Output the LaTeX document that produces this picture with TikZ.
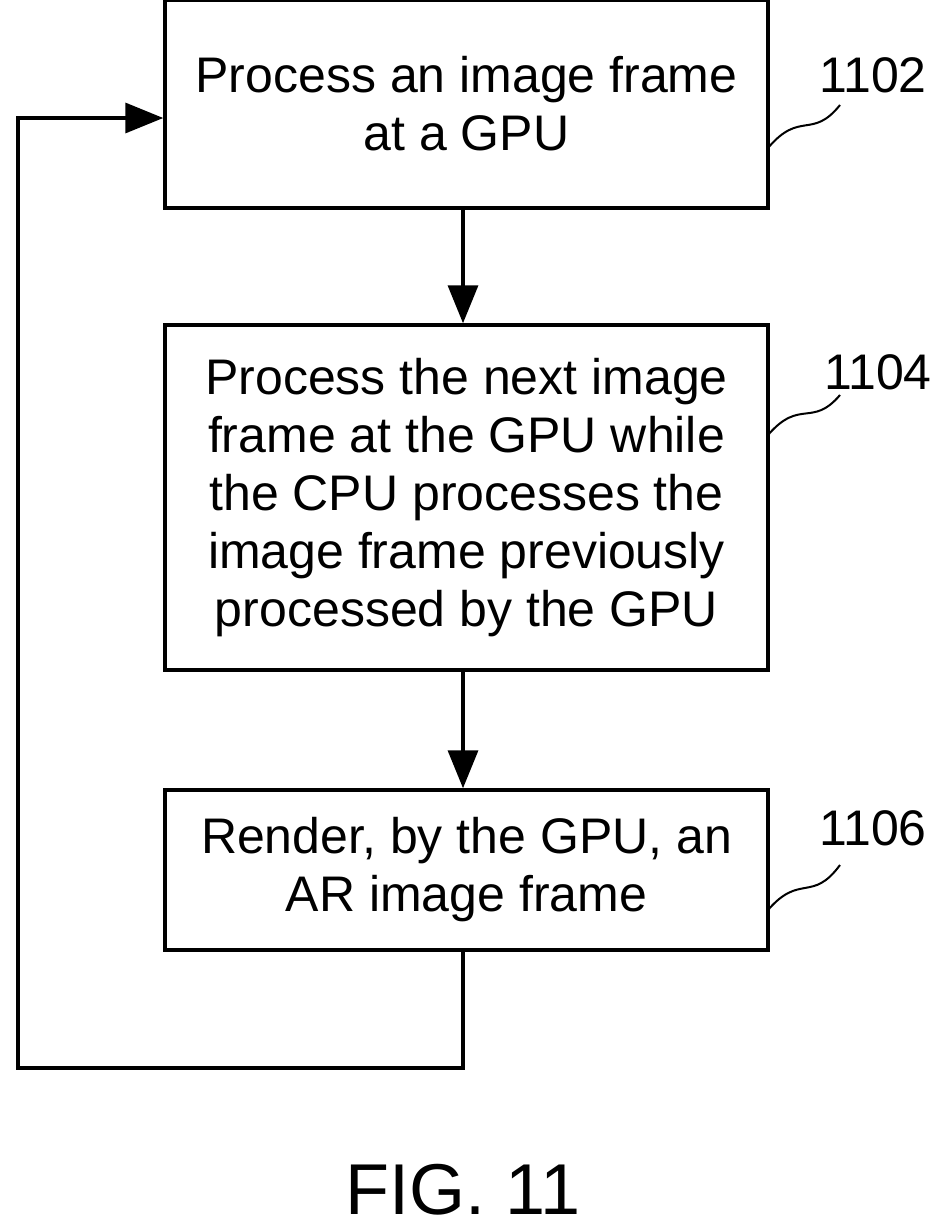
\documentclass[tikz,border=0pt]{standalone}
\usepackage{fontspec}
\setmainfont{Liberation Sans}
\usetikzlibrary{arrows.meta}
\begin{document}
\begin{tikzpicture}[x=1pt,y=-1pt,
 box/.style={draw,line width=3.5pt,minimum width=603pt,align=center,font=\fontsize{50}{58}\selectfont,inner sep=0},
 arr/.style={line width=3.5pt,-{Triangle[length=38pt,width=30pt]}},
 lab/.style={font=\fontsize{50}{56}\selectfont},
 sq/.style={line width=2pt}]
\useasboundingbox (0,0) rectangle (939,1229);
\node[box,minimum height=208pt] (b1) at (466.5,104) {\raisebox{-8pt}{}Process an image frame\\at a GPU};
\node[box,minimum height=345pt] (b2) at (466.5,497.5) {Process the next image\\frame at the GPU while\\the CPU processes the\\image frame previously\\processed by the GPU};
\node[box,minimum height=160pt] (b3) at (466.5,870) {Render, by the GPU, an\\AR image frame};
\draw[arr] (b1.south -| 463,0) -- (b2.north -| 463,0);
\draw[arr] (b2.south -| 463,0) -- (b3.north -| 463,0);
\coordinate (c1) at (463,1068);
\coordinate (c2) at (18,1068);
\coordinate (c3) at (18,118);
\draw[arr] (b3.south -| 463,0) -- (c1) -- (c2) -- (c3) -- (b1.west |- c3);
\node[lab] (l1) at (873,75) {1102};
\node[lab] (l2) at (878,372) {1104};
\node[lab] (l3) at (873,828) {1106};
\draw[sq] (768,148) .. controls (800,110) and (812,140) .. (840,105);
\draw[sq] (768,435) .. controls (800,398) and (812,428) .. (840,395);
\draw[sq] (768,910) .. controls (800,873) and (812,903) .. (840,865);
\node[font=\fontsize{72}{80}\selectfont] (fig) at (463,1190) {FIG. 11};
\end{tikzpicture}
\end{document}
